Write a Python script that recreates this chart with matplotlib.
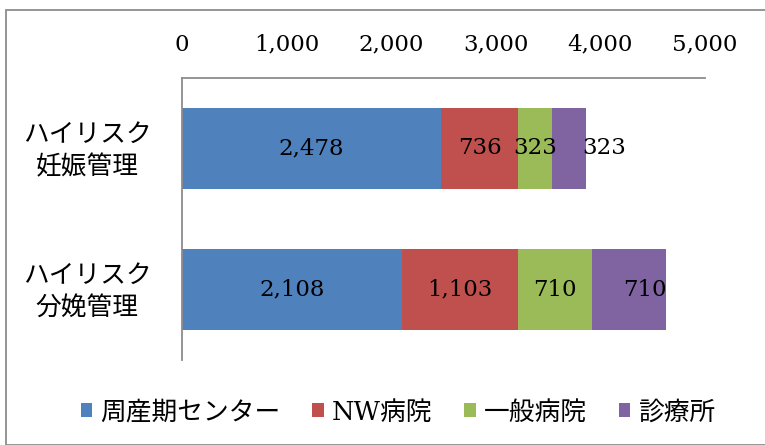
"""
High-risk pregnancy / delivery management by facility type — stacked horizontal bars
"""

import matplotlib
matplotlib.use("Agg")
import matplotlib.pyplot as plt
from matplotlib.patches import Patch, Rectangle
from matplotlib.ticker import FuncFormatter
from matplotlib.transforms import ScaledTranslation

plt.rcParams["font.family"] = ["DejaVu Serif", "Noto Sans CJK JP"]

CATEGORIES = ["ハイリスク\n妊娠管理", "ハイリスク\n分娩管理"]
SERIES = ["周産期センター", "NW病院", "一般病院", "診療所"]
COLORS = ["#4F81BD", "#C0504D", "#9BBB59", "#8064A2"]

PERINATAL = [2478, 2108]
NW_HOSP = [736, 1103]
GENERAL = [323, 710]
CLINIC = [323, 710]

XTICKS = [0, 1000, 2000, 3000, 4000, 5000]

# labels of the last series were nudged right in the original (pixels)
CLINIC_LABEL_NUDGE = [35, 16]

W, H = 765, 445
fig = plt.figure(figsize=(W / 100, H / 100), dpi=100)

# outer chart-area frame (right/bottom edges fall outside the picture)
fig.patches.append(Rectangle((6 / W, 0), 1.2, 1 - 10 / H, transform=fig.transFigure,
                             fill=False, edgecolor="#8c8c8c", linewidth=1.3))

ax = fig.add_axes([182 / W, 1 - 360 / H, (705 - 182) / W, 282 / H])

values = [PERINATAL, NW_HOSP, GENERAL, CLINIC]
ypos = list(range(len(CATEGORIES)))
left = [0] * len(CATEGORIES)
for s, (vals, color) in enumerate(zip(values, COLORS)):
    bars = ax.barh(ypos, vals, left=left, height=0.575, color=color, linewidth=0)
    for i, (b, v) in enumerate(zip(bars, vals)):
        cx = b.get_x() + b.get_width() / 2
        dx = CLINIC_LABEL_NUDGE[i] if s == len(values) - 1 else 0
        ax.annotate(f"{v:,}", (cx, b.get_y() + b.get_height() / 2), xytext=(dx, 0),
                    textcoords="offset pixels", ha="center", va="center",
                    fontsize=16.5, color="black")
    left = [l + v for l, v in zip(left, vals)]

ax.set_xlim(0, 5000)
ax.set_ylim(1.5, -0.5)
ax.xaxis.tick_top()
ax.set_xticks(XTICKS)
ax.xaxis.set_major_formatter(FuncFormatter(lambda x, _: f"{int(x):,}"))
ax.tick_params(axis="x", length=0, pad=16, labelsize=16.5)
ax.set_yticks(ypos)
ax.set_yticklabels(CATEGORIES, multialignment="center", linespacing=1.35)
ax.tick_params(axis="y", length=0, pad=22, labelsize=18.5)
lift = ScaledTranslation(0, 4 / 100, fig.dpi_scale_trans)
for lbl in ax.get_yticklabels():
    lbl.set_transform(lbl.get_transform() + lift)

for side in ["right", "bottom"]:
    ax.spines[side].set_visible(False)
for side in ["left", "top"]:
    ax.spines[side].set_color("#8c8c8c")
    ax.spines[side].set_linewidth(1.3)

handles = [Patch(facecolor=c, edgecolor="none") for c in COLORS]
fig.legend(handles, SERIES, loc="center", bbox_to_anchor=(398 / W, 1 - 412 / H),
           ncol=4, frameon=False, fontsize=18.5, handlelength=0.45, handleheight=0.45,
           handletextpad=0.3, columnspacing=1.25)

fig.savefig("out.png", dpi=100)
